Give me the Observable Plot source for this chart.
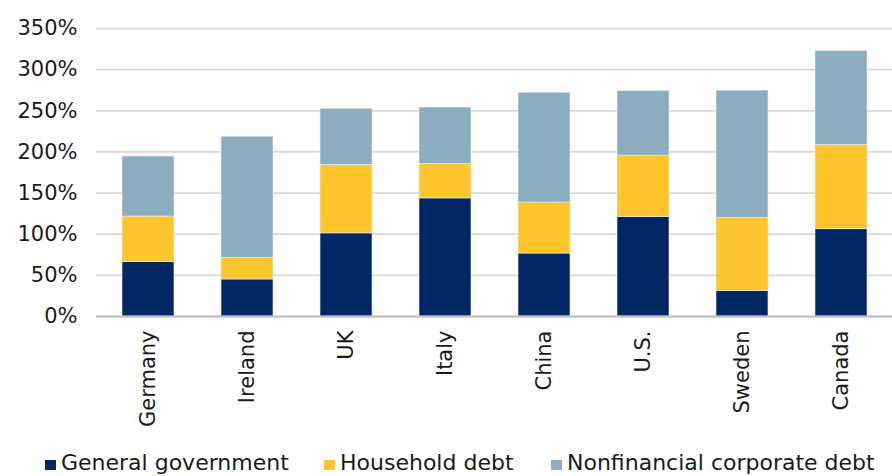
<!DOCTYPE html>
<html>
<head>
<meta charset="utf-8">
<script src="https://cdn.jsdelivr.net/npm/d3@7"></script>
<script src="https://cdn.jsdelivr.net/npm/@observablehq/plot@0.6"></script>
<style>
  html, body { margin: 0; padding: 0; background: #fff; }
  body { width: 892px; height: 476px; overflow: hidden; font-family: "DejaVu Sans", sans-serif; color: #1a1a1a; }
  #chart { position: absolute; left: 0; top: 0; }
  #legend { position: absolute; left: 0; top: 450px; width: 892px; height: 26px; font-size: 22px; }
  .item { position: absolute; top: 0; white-space: nowrap; line-height: 26px; }
  .sw { display: inline-block; width: 11px; height: 10px; margin-right: 5px; vertical-align: 0px; }
</style>
</head>
<body>
<div id="chart"></div>
<div id="legend"></div>
<script>
const countries = ["Germany", "Ireland", "UK", "Italy", "China", "U.S.", "Sweden", "Canada"];
const seriesNames = ["General government", "Household debt", "Nonfinancial corporate debt"];
const generalGovernment = [66, 45, 101, 143.5, 76.5, 121, 31, 106];
const householdDebt = [55.5, 26, 83, 42, 62, 74.5, 89, 102.5];
const corporateDebt = [73, 147.5, 68.5, 68.5, 133.5, 78.5, 154.5, 114];
const yTicks = [0, 50, 100, 150, 200, 250, 300, 350];
const colors = ["#002664", "#FFC52D", "#8AAEBF"];

const seriesValues = [generalGovernment, householdDebt, corporateDebt];
const data = [];
seriesNames.forEach((s, si) => {
  countries.forEach((c, ci) => data.push({country: c, series: s, value: seriesValues[si][ci]}));
});

const plot = Plot.plot({
  width: 892,
  height: 440,
  marginTop: 28,
  marginBottom: 124,
  marginLeft: 96,
  marginRight: 0,
  style: {fontFamily: "DejaVu Sans, sans-serif", fontSize: "21px", color: "#1a1a1a", background: "white"},
  x: {domain: countries, paddingInner: 0.477, paddingOuter: 0.2385, label: null},
  y: {domain: [0, 350], label: null},
  color: {domain: seriesNames, range: colors},
  marks: [
    Plot.gridY(yTicks, {stroke: "#d9d9d9", strokeOpacity: 1, strokeWidth: 1.8}),
    Plot.barY(data, {x: "country", y: "value", fill: "series", order: seriesNames, stroke: "#e8eef2", strokeWidth: 0.6}),
    Plot.ruleY([0], {stroke: "#bfbfbf", strokeWidth: 2}),
    Plot.axisY(yTicks, {tickSize: 0, tickPadding: 19, tickFormat: d => d + "%", fontSize: 21}),
    Plot.axisX({tickSize: 0, tickPadding: 14, tickRotate: -90, fontSize: 21})
  ]
});
document.getElementById("chart").appendChild(plot);

const legend = document.getElementById("legend");
const legendX = [45, 324, 551];
seriesNames.forEach((s, i) => {
  const it = document.createElement("div");
  it.className = "item";
  it.style.left = legendX[i] + "px";
  const sw = document.createElement("span");
  sw.className = "sw";
  sw.style.background = colors[i];
  it.appendChild(sw);
  it.appendChild(document.createTextNode(s));
  legend.appendChild(it);
});
</script>
</body>
</html>
